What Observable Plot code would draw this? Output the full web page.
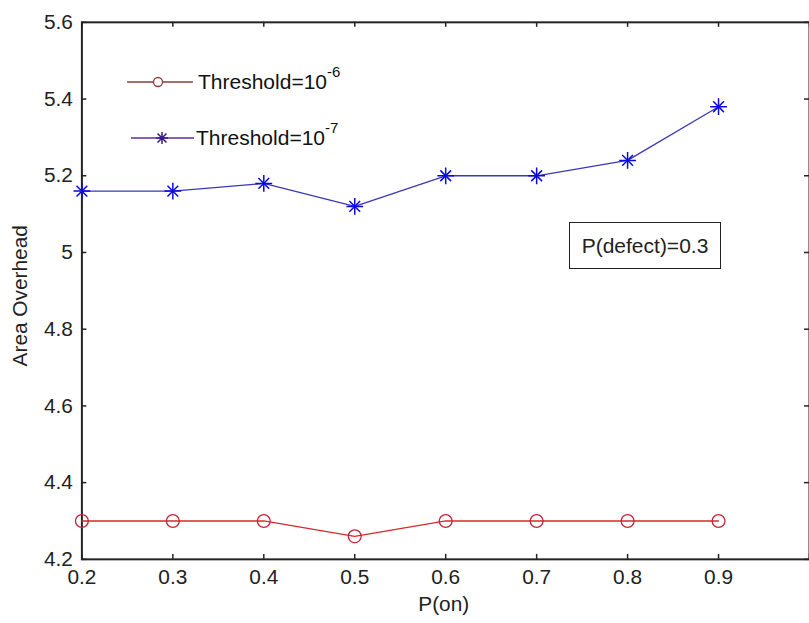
<!DOCTYPE html>
<html><head><meta charset="utf-8">
<script src="https://cdn.jsdelivr.net/npm/d3@7"></script>
<script src="https://cdn.jsdelivr.net/npm/@observablehq/plot@0.6"></script>
<style>
body{margin:0;background:#fff;overflow:hidden}
#chart{position:relative;width:809px;height:623px;overflow:hidden;font-family:Arial,"Liberation Sans",sans-serif}
#legend{position:absolute;left:0;top:0}
#note{position:absolute;left:569px;top:222px;width:150px;height:45px;border:1.5px solid #222;box-sizing:content-box;font-size:21px;color:#222;line-height:45px;text-align:center;background:#fff}
</style>
</head><body>
<div id="chart"></div>
<script>
// data
const pOn = [0.2, 0.3, 0.4, 0.5, 0.6, 0.7, 0.8, 0.9];
const threshold6 = [4.30, 4.30, 4.30, 4.26, 4.30, 4.30, 4.30, 4.30];
const threshold7 = [5.16, 5.16, 5.18, 5.12, 5.20, 5.20, 5.24, 5.38];
const xTicks = [0.2, 0.3, 0.4, 0.5, 0.6, 0.7, 0.8, 0.9, 1.0];
const xTickLabels = [0.2, 0.3, 0.4, 0.5, 0.6, 0.7, 0.8, 0.9];
const yTicks = [4.2, 4.4, 4.6, 4.8, 5.0, 5.2, 5.4, 5.6];
const seriesLabels = ["Threshold=10", "Threshold=10"];
const seriesExponents = ["-6", "-7"];
const noteText = "P(defect)=0.3";
const xLabel = "P(on)";
const yLabel = "Area Overhead";

const s6 = pOn.map((x, i) => ({x, y: threshold6[i]}));
const s7 = pOn.map((x, i) => ({x, y: threshold7[i]}));

const W = 815, H = 623, mL = 82, mR = 0, mT = 22, mB = 60;
const innerW = W - mL - mR, innerH = H - mT - mB;
const tk = 5;

const red = "#d42a2a", redMk = "#c4243a", blue = "#3a38b8", blueMk = "#0a0ae0";

const plot = Plot.plot({
  width: W, height: H,
  marginLeft: mL, marginRight: mR, marginTop: mT, marginBottom: mB,
  style: {fontFamily: "Arial, 'Liberation Sans', sans-serif", fontSize: "21px", color: "#222", background: "#fff"},
  x: {domain: [0.2, 1.0]},
  y: {domain: [4.2, 5.6]},
  marks: [
    Plot.axisX({ticks: xTickLabels, tickSize: 0, tickPadding: 10, label: null, tickFormat: d => String(+d.toFixed(1)), fill: "#222"}),
    Plot.axisY({ticks: yTicks, tickSize: 0, tickPadding: 9, label: null, tickFormat: d => String(+d.toFixed(1)), fill: "#222"}),
    Plot.tickX(xTicks, {x: d => d, insetTop: innerH - tk, stroke: "#222", strokeWidth: 1.5}),
    Plot.tickX(xTicks, {x: d => d, insetBottom: innerH - tk, stroke: "#222", strokeWidth: 1.5}),
    Plot.tickY(yTicks, {y: d => d, insetRight: innerW - tk, stroke: "#222", strokeWidth: 1.5}),
    Plot.tickY(yTicks, {y: d => d, insetLeft: innerW - tk, stroke: "#222", strokeWidth: 1.5}),
    Plot.frame({stroke: "#222", strokeWidth: 2}),
    Plot.line(s6, {x: "x", y: "y", stroke: red, strokeWidth: 1.3}),
    Plot.dot(s6, {x: "x", y: "y", r: 6.5, stroke: redMk, strokeWidth: 1.3, fill: "none"}),
    Plot.line(s7, {x: "x", y: "y", stroke: blue, strokeWidth: 1.3}),
    Plot.dot(s7, {x: "x", y: "y", r: 5.5, symbol: "plus", stroke: blueMk, strokeWidth: 1.5}),
    Plot.dot(s7, {x: "x", y: "y", r: 5, symbol: "times", stroke: blueMk, strokeWidth: 1.5}),
    Plot.text([xLabel], {text: d => d, frameAnchor: "bottom", lineAnchor: "top", dy: 37, dx: -2, fill: "#222"}),
    Plot.text([yLabel], {text: d => d, frameAnchor: "left", textAnchor: "middle", rotate: -90, dx: -62, dy: 5, fill: "#222"})
  ]
});
const chart = document.getElementById("chart");
chart.appendChild(plot);

// legend
const leg = d3.select(chart).append("svg").attr("id", "legend").attr("width", 809).attr("height", 200);
const legRows = [
  {y: 82, x1: 127, x2: 193, mx: 158, color: "#8e3c3c", mk: "#8e3c3c", kind: "circle", tx: 198},
  {y: 138, x1: 131, x2: 194, mx: 162, color: "#5c2e9c", mk: "#3a1a8a", kind: "star", tx: 196}
];
legRows.forEach((r, i) => {
  const g = leg.append("g");
  g.append("line").attr("x1", r.x1).attr("x2", r.x2).attr("y1", r.y).attr("y2", r.y).attr("stroke", r.color).attr("stroke-width", 1.5);
  if (r.kind === "circle") {
    g.append("circle").attr("cx", r.mx).attr("cy", r.y).attr("r", 4.5).attr("fill", "#fff").attr("stroke", r.mk).attr("stroke-width", 1.3);
  } else {
    const a = 6, b = 4.5;
    g.append("path").attr("d", `M${r.mx - a},${r.y}H${r.mx + a}M${r.mx},${r.y - a}V${r.y + a}M${r.mx - b},${r.y - b}L${r.mx + b},${r.y + b}M${r.mx - b},${r.y + b}L${r.mx + b},${r.y - b}`).attr("stroke", r.mk).attr("stroke-width", 1.5);
  }
  const t = g.append("text").attr("x", r.tx).attr("y", r.y + 7).attr("fill", "#111")
    .style("font-family", "Arial, 'Liberation Sans', sans-serif").style("font-size", "21px");
  t.append("tspan").text(seriesLabels[i]);
  t.append("tspan").attr("dy", -12).style("font-size", "15px").text(seriesExponents[i]);
});

const note = document.createElement("div");
note.id = "note";
note.textContent = noteText;
chart.appendChild(note);
</script>
</body></html>
